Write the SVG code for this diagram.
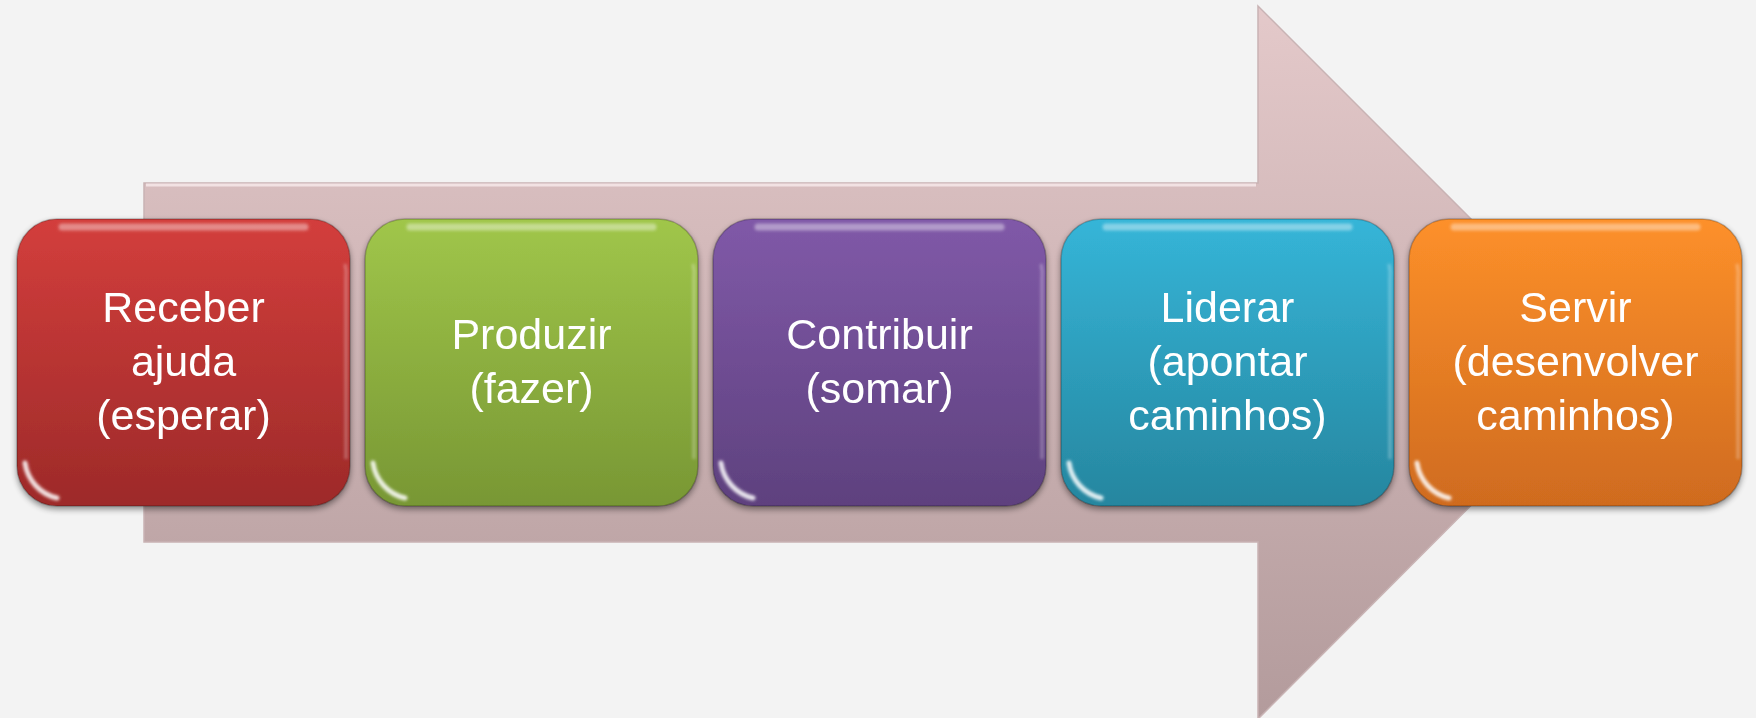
<svg xmlns="http://www.w3.org/2000/svg" width="1756" height="718" viewBox="0 0 1756 718">
<defs>
<style>
.lbl{font-family:"Liberation Sans",Arial,sans-serif;font-size:43px;fill:#ffffff;text-anchor:middle}
</style>
<linearGradient id="gArrow" x1="0" y1="0" x2="0" y2="1">
<stop offset="0" stop-color="#e4c9ca"/><stop offset="1" stop-color="#b39b9c"/>
</linearGradient>
<linearGradient id="gRed" x1="0" y1="0" x2="0" y2="1">
<stop offset="0" stop-color="#d33e3c"/><stop offset="1" stop-color="#9d2a29"/>
</linearGradient>
<linearGradient id="gGreen" x1="0" y1="0" x2="0" y2="1">
<stop offset="0" stop-color="#a0c64a"/><stop offset="1" stop-color="#789734"/>
</linearGradient>
<linearGradient id="gPurple" x1="0" y1="0" x2="0" y2="1">
<stop offset="0" stop-color="#8059a8"/><stop offset="1" stop-color="#5e417e"/>
</linearGradient>
<linearGradient id="gBlue" x1="0" y1="0" x2="0" y2="1">
<stop offset="0" stop-color="#35b5d8"/><stop offset="1" stop-color="#26869f"/>
</linearGradient>
<linearGradient id="gOrange" x1="0" y1="0" x2="0" y2="1">
<stop offset="0" stop-color="#fd902a"/><stop offset="1" stop-color="#cf6b1f"/>
</linearGradient>
<filter id="shadow" x="-10%" y="-10%" width="120%" height="125%">
<feGaussianBlur in="SourceAlpha" stdDeviation="3"/>
<feOffset dx="0" dy="3" result="b"/>
<feComponentTransfer><feFuncA type="linear" slope="0.45"/></feComponentTransfer>
<feMerge><feMergeNode/><feMergeNode in="SourceGraphic"/></feMerge>
</filter>
<filter id="soft" filterUnits="userSpaceOnUse" x="-20" y="-20" width="380" height="330">
<feGaussianBlur stdDeviation="1.6"/>
</filter>
<g id="gloss">
<rect x="0" y="0" width="333" height="287" rx="40" ry="40" fill="none" stroke="#000000" stroke-opacity="0.22" stroke-width="1.5"/>
<path d="M45,8 H288" stroke="#ffffff" stroke-opacity="0.4" stroke-width="7" stroke-linecap="round" fill="none" filter="url(#soft)"/>
<path d="M8,244 A42,42 0 0 0 40,279" stroke="#ffffff" stroke-opacity="0.85" stroke-width="5" stroke-linecap="round" fill="none" filter="url(#soft)"/>
<path d="M328,45 A40,40 0 0 1 329,60 V240" stroke="#ffffff" stroke-opacity="0.3" stroke-width="3" fill="none" filter="url(#soft)"/>
</g>
</defs>
<rect width="1756" height="718" fill="#f3f3f3"/>
<g id="connectors">
<path id="bigArrow" d="M144,183 H1258 V6 L1614,362 L1258,719 V542 H144 Z" fill="url(#gArrow)" stroke="#c9b3b4" stroke-width="1.5"/>
<path d="M146,185 H1256" stroke="#f2e2e3" stroke-width="3" fill="none"/>
</g>
<g id="node1" filter="url(#shadow)">
<rect x="17" y="219" width="333" height="287" rx="40" ry="40" fill="url(#gRed)"/>
<use href="#gloss" x="17" y="219"/>
<text class="lbl"><tspan x="183.5" y="322">Receber</tspan><tspan x="183.5" y="376">ajuda</tspan><tspan x="183.5" y="430">(esperar)</tspan></text>
</g>
<g id="node2" filter="url(#shadow)">
<rect x="365" y="219" width="333" height="287" rx="40" ry="40" fill="url(#gGreen)"/>
<use href="#gloss" x="365" y="219"/>
<text class="lbl"><tspan x="531.5" y="349">Produzir</tspan><tspan x="531.5" y="403">(fazer)</tspan></text>
</g>
<g id="node3" filter="url(#shadow)">
<rect x="713" y="219" width="333" height="287" rx="40" ry="40" fill="url(#gPurple)"/>
<use href="#gloss" x="713" y="219"/>
<text class="lbl"><tspan x="879.5" y="349">Contribuir</tspan><tspan x="879.5" y="403">(somar)</tspan></text>
</g>
<g id="node4" filter="url(#shadow)">
<rect x="1061" y="219" width="333" height="287" rx="40" ry="40" fill="url(#gBlue)"/>
<use href="#gloss" x="1061" y="219"/>
<text class="lbl"><tspan x="1227.5" y="322">Liderar</tspan><tspan x="1227.5" y="376">(apontar</tspan><tspan x="1227.5" y="430">caminhos)</tspan></text>
</g>
<g id="node5" filter="url(#shadow)">
<rect x="1409" y="219" width="333" height="287" rx="40" ry="40" fill="url(#gOrange)"/>
<use href="#gloss" x="1409" y="219"/>
<text class="lbl"><tspan x="1575.5" y="322">Servir</tspan><tspan x="1575.5" y="376">(desenvolver</tspan><tspan x="1575.5" y="430">caminhos)</tspan></text>
</g>
</svg>
